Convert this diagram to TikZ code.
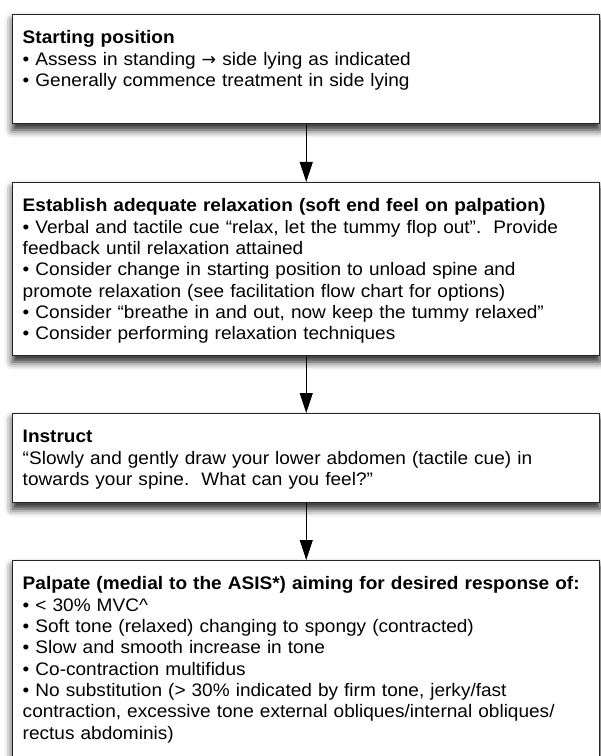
\documentclass[tikz,border=0pt]{standalone}
\usepackage{fontspec}
\setmainfont[FakeStretch=1.05]{Liberation Sans}
\newfontfamily\arrowfont{DejaVu Sans}
\usetikzlibrary{arrows.meta, shadows.blur}

\begin{document}
\begin{tikzpicture}[
    stepbox/.style={draw=black!85, line width=1.1pt, fill=white, anchor=north west,
      inner xsep=7.5pt, inner ysep=0pt, text width=425.25pt, align=left,
      text height=21.75pt, font=\fontsize{13.6}{16}\selectfont,
      blur shadow={shadow xshift=0pt, shadow yshift=-4.5pt, shadow blur radius=6pt, shadow opacity=90}},
    flow/.style={-{Triangle[length=15pt, width=9.75pt]}, line width=0.8pt}]
  \useasboundingbox (0,0) rectangle (450pt,-567pt);
  % Boxes:
  \node[stepbox, text depth=60pt](B1) at (9pt,-10.5pt){\textbf{Starting position}\\
    • Assess in standing {\arrowfont\fontsize{13}{16}\selectfont →} side lying as indicated\\
    • Generally commence treatment in side lying};
  \node[stepbox, text depth=108pt](B2) at (9pt,-136.5pt){\textbf{Establish adequate relaxation (soft end feel on palpation)}\\
    • Verbal and tactile cue “relax, let the tummy flop out”.\ \ Provide\\
    feedback until relaxation attained\\
    • Consider change in starting position to unload spine and\\
    promote relaxation (see facilitation flow chart for options)\\
    • Consider “breathe in and out, now keep the tummy relaxed”\\
    • Consider performing relaxation techniques};
  \node[stepbox, text depth=45pt](B3) at (9pt,-309.75pt){\textbf{Instruct}\\
    “Slowly and gently draw your lower abdomen (tactile cue) in\\
    towards your spine.\ \ What can you feel?"};
  \node[stepbox, text depth=130pt](B4) at (9pt,-420pt){\textbf{Palpate (medial to the ASIS*) aiming for desired response of:}\\
    • < 30\% MVC\textasciicircum\\
    • Soft tone (relaxed) changing to spongy (contracted)\\
    • Slow and smooth increase in tone\\
    • Co-contraction multifidus\\
    • No substitution (> 30\% indicated by firm tone, jerky/fast\\
    contraction, excessive tone external obliques/internal obliques/\\
    rectus abdominis)};
  % Arrows:
  \draw[flow] (B1) -- (B2);
  \draw[flow] (B2) -- (B3);
  \draw[flow] (B3) -- (B4);
\end{tikzpicture}
\end{document}
